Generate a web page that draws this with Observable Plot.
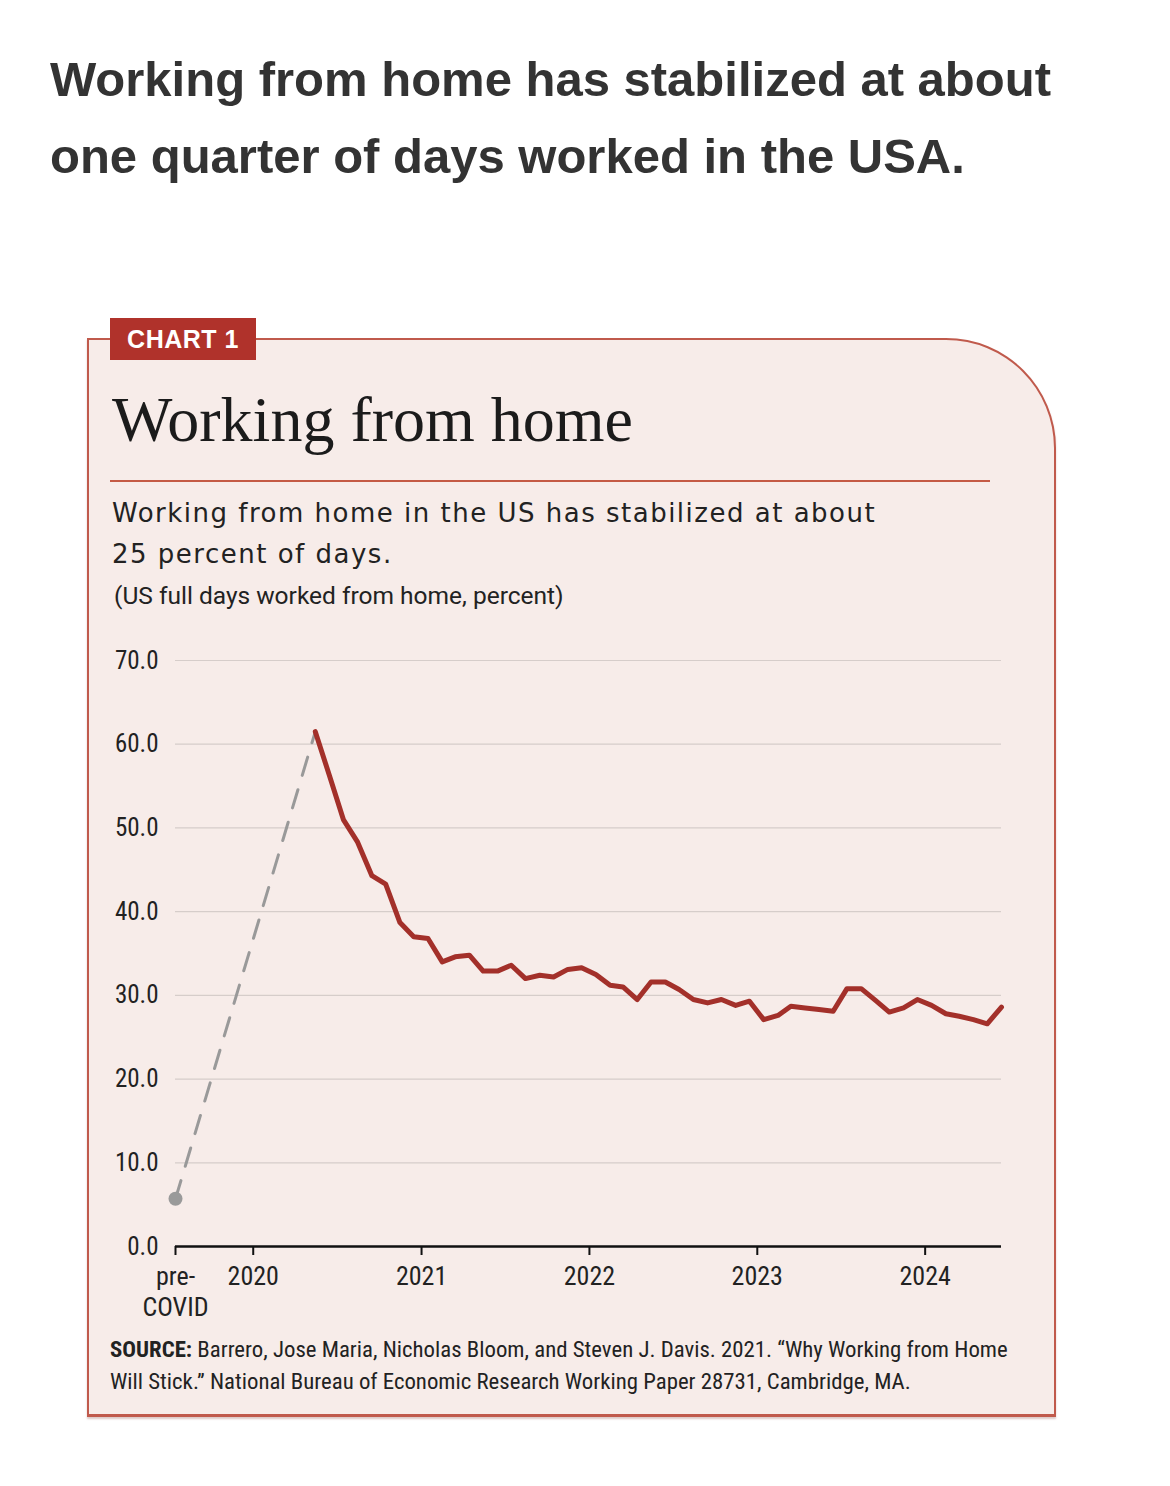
<!DOCTYPE html>
<html>
<head>
<meta charset="utf-8">
<script src="https://cdn.jsdelivr.net/npm/d3@7"></script>
<script src="https://cdn.jsdelivr.net/npm/@observablehq/plot@0.6"></script>
<style>
  html, body { margin: 0; padding: 0; background: #ffffff; }
  body { width: 1170px; height: 1486px; position: relative; overflow: hidden; }
  #headline { position: absolute; left: 50px; top: 41px; margin: 0; font-family: "Liberation Sans", Arial, sans-serif; font-weight: 700; font-size: 49px; line-height: 77px; color: #333333; }
  #card { position: absolute; left: 87px; top: 338px; width: 965px; height: 1074px; background: #f7ece9; border: 2px solid #c05a4c; border-bottom-width: 3px; border-top-right-radius: 110px; box-shadow: 0 2px 2px rgba(120,40,30,0.25); }
  #tag { position: absolute; left: 110px; top: 318px; width: 146px; height: 42px; background: #b0322b; color: #fff; font-family: "Liberation Sans", Arial, sans-serif; font-weight: 700; font-size: 25px; line-height: 42px; text-align: center; letter-spacing: 0.5px; }
  #ctitle { position: absolute; left: 112px; top: 380px; margin: 0; font-family: "Liberation Serif", "Times New Roman", serif; font-weight: 400; font-size: 64px; letter-spacing: 0px; line-height: 80px; color: #1b1b1b; }
  #crule { position: absolute; left: 110px; top: 480px; width: 880px; height: 2px; background: #c45a45; }
  #csub { position: absolute; left: 112px; top: 493px; margin: 0; font-family: "DejaVu Sans", sans-serif; font-size: 26px; letter-spacing: 1.5px; line-height: 41px; color: #222; }
  #cunit { position: absolute; left: 114px; top: 581px; margin: 0; font-family: Roboto, sans-serif; font-size: 24.5px; line-height: 30px; color: #222; }
  #chart { position: absolute; left: 100px; top: 640px; }
  #source { position: absolute; left: 110px; top: 1334px; margin: 0; width: 940px; white-space: nowrap; font-family: "Liberation Sans Narrow", "Roboto Condensed", Roboto, sans-serif; font-size: 22.8px; line-height: 32px; color: #222; }
</style>
</head>
<body>
<h1 id="headline">Working from home has stabilized at about<br>one quarter of days worked in the USA.</h1>
<div id="card"></div>
<div id="tag">CHART 1</div>
<h2 id="ctitle">Working from home</h2>
<div id="crule"></div>
<p id="csub">Working from home in the US has stabilized at about<br>25 percent of days.</p>
<p id="cunit">(US full days worked from home, percent)</p>
<div id="chart"></div>
<p id="source"><b>SOURCE:</b> Barrero, Jose Maria, Nicholas Bloom, and Steven J. Davis. 2021. “Why Working from Home<br>Will Stick.” National Bureau of Economic Research Working Paper 28731, Cambridge, MA.</p>
<script>
// ---- data ----
const preCovidDate = "2019-07-16";
const preCovidValue = 5.7;
const firstMonth = "2020-05-15";
const wfhValues = [
  // 2020 May–Dec
  61.5, 56.2, 51.0, 48.3, 44.3, 43.3, 38.7, 37.0,
  // 2021
  36.8, 34.0, 34.6, 34.8, 32.9, 32.9, 33.6, 32.0, 32.4, 32.2, 33.1, 33.3,
  // 2022
  32.5, 31.2, 31.0, 29.5, 31.6, 31.6, 30.7, 29.5, 29.1, 29.5, 28.8, 29.3,
  // 2023
  27.1, 27.6, 28.7, 28.5, 28.3, 28.1, 30.8, 30.8, 29.4, 28.0, 28.5, 29.5,
  // 2024 Jan–Jun
  28.8, 27.8, 27.5, 27.1, 26.6, 28.6
];
const xTickDates = ["2019-07-16", "2020-01-01", "2021-01-01", "2022-01-01", "2023-01-01", "2024-01-01"];
const xTickLabels = ["pre-\nCOVID", "2020", "2021", "2022", "2023", "2024"];
const yTicks = [0, 10, 20, 30, 40, 50, 60, 70];

// ---- build tables ----
const start = new Date(firstMonth);
const series = wfhValues.map((v, i) => ({ date: d3.utcMonth.offset(start, i), value: v }));
const pre = { date: new Date(preCovidDate), value: preCovidValue };
const bridge = [pre, series[0]];
const tickDates = xTickDates.map(d => new Date(d));
const labelFor = new Map(tickDates.map((d, i) => [+d, xTickLabels[i]]));

const axisFont = "'Liberation Sans Narrow', 'Roboto Condensed', Roboto, sans-serif";

const chart = Plot.plot({
  width: 920,
  height: 686,
  marginTop: 20,
  marginBottom: 80,
  marginLeft: 75,
  marginRight: 19,
  style: { background: "transparent", fontFamily: axisFont, fontSize: "26px", color: "#222" },
  x: { type: "utc", domain: [new Date(preCovidDate), series[series.length - 1].date] },
  y: { domain: [0, 70] },
  marks: [
    Plot.gridY(yTicks.filter(d => d > 0), { stroke: "#d6cdca", strokeOpacity: 1, strokeWidth: 1.2 }),
    Plot.axisY(yTicks, { tickSize: 0, tickPadding: 17, tickFormat: d => d.toFixed(1), fontSize: 25, fill: "#222", label: null }),
    Plot.axisX(tickDates, { tickSize: 9, tickPadding: 7, stroke: "#111", strokeWidth: 2, tickFormat: d => labelFor.get(+d), fontSize: 26, lineHeight: 1.2, fill: "#222", label: null }),
    Plot.ruleY([0], { stroke: "#111", strokeWidth: 2.5 }),
    Plot.line(bridge, { x: "date", y: "value", stroke: "#999", strokeWidth: 3, strokeDasharray: "19,15" }),
    Plot.dot([pre], { x: "date", y: "value", r: 7, fill: "#9a9a9a", stroke: "none" }),
    Plot.line(series, { x: "date", y: "value", stroke: "#a3302a", strokeWidth: 5, strokeLinejoin: "round", strokeLinecap: "round" })
  ]
});
document.getElementById("chart").appendChild(chart);
</script>
</body>
</html>
